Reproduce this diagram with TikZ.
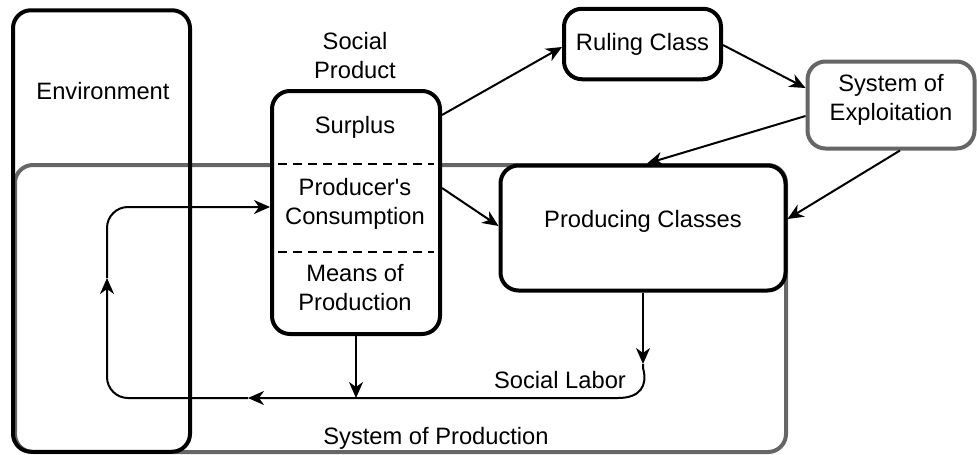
\documentclass[tikz,border=0pt]{standalone}
\usepackage{fontspec}
\setmainfont{Liberation Sans}
\usetikzlibrary{arrows.meta,calc}
\newcommand{\straightquote}{{\XeTeXglyph\XeTeXglyphindex "quotesingle" }}
\begin{document}
\begin{tikzpicture}[x=1pt,y=-1pt,
  txt/.style={font=\fontsize{23.7}{29}\selectfont, align=center, inner sep=0pt},
  bbox/.style={draw=black, line width=4pt, rounded corners=18pt, inner sep=0pt},
  gbox/.style={draw=black!60, line width=4pt, rounded corners=18pt, inner sep=0pt},
  conn/.style={line width=2pt, -{Stealth[length=16pt,width=14pt,inset=5pt]}},
  sepline/.style={line width=2pt, dash pattern=on 9pt off 6pt}]
\useasboundingbox (0,0) rectangle (977,455);
% System of Production (gray) and Environment (open)
\node[gbox, minimum width=771pt, minimum height=287pt] (sysprod) at (400.5,308.5) {};
\node[bbox, minimum width=177pt, minimum height=441.5pt] (env) at (101.5,231) {};
\node[txt] (envtext) at (103,91) {Environment};
\node[txt] (sptext) at (436,438) {System of Production};
% loop connector points
\coordinate (pcarrow) at (643,364);
\coordinate (bl) at (248,398);
\coordinate (lu) at (107,278);
% boxes
\node[bbox, fill=white, minimum width=168pt, minimum height=243pt] (sp) at (356,212.5) {};
\node[bbox, fill=white, minimum width=157pt, minimum height=70.5pt, txt] (rc) at (642.5,44) {Ruling Class};
\node[gbox, fill=white, minimum width=167pt, minimum height=87pt] (se) at (891,105) {};
\node[txt] (setext) at ($(se.center)+(0,-5)$) {System of\\Exploitation};
\node[bbox, fill=white, minimum width=285pt, minimum height=125pt] (pc) at (643,228) {};
\node[txt] (pctext) at ($(pc.center)+(0,-7)$) {Producing Classes};
% texts of social product
\node[txt] (spl) at (355,56) {Social\\Product};
\node[txt] (surplus) at (355,127) {Surplus};
\node[txt] (consum) at (355,204) {Producer\straightquote s\\Consumption};
\node[txt] (means) at (355,288) {Means of\\Production};
\node[txt] (labor) at (560,380) {Social Labor};
% dashed separators
\draw[sepline] ($(sp.west |- 0,164)+(8,0)$) -- ($(sp.east |- 0,164)+(-8,0)$);
\draw[sepline] ($(sp.west |- 0,252)+(8,0)$) -- ($(sp.east |- 0,252)+(-8,0)$);
% connectors
\draw[conn] (sp.east |- 0,115) -- (rc.west |- 0,47);
\draw[conn] (rc.east |- 0,45) -- (se.west |- 0,88);
\draw[conn] (se.west |- 0,116) -- (pc.north -| 647,0);
\draw[conn] (se.south -| 900,0) -- (pc.east |- 0,219);
\draw[conn] (sp.east |- 0,188) -- (pc.west |- 0,226);
\draw[conn] (pc.south -| pcarrow) -- (pcarrow);
\draw[conn] (pcarrow) -- (643,368) .. controls (648,386) and (640,398) .. (618,398) -- (bl);
\draw[conn, rounded corners=21pt] (bl) -- (107,398) -- (lu);
\draw[conn, rounded corners=21pt] (lu) -- (107,207) -- (sp.west |- 0,207);
\draw[conn] (sp.south) -- (sp.south |- bl);
\end{tikzpicture}
\end{document}
